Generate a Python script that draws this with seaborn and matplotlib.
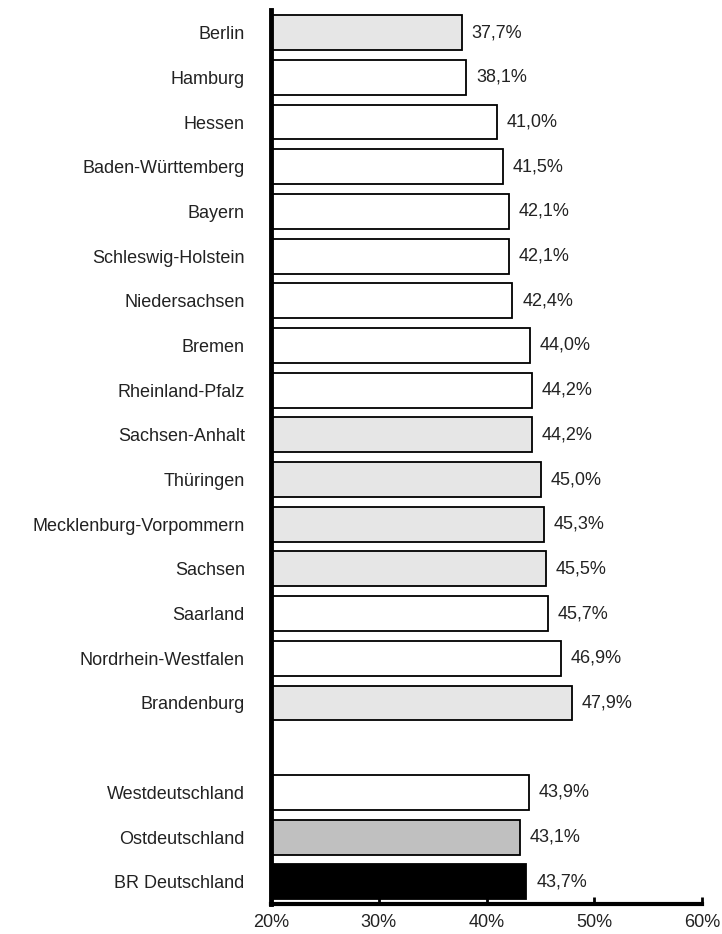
import matplotlib.pyplot as plt
import matplotlib.ticker as ticker
import pandas as pd
import seaborn as sns

# Bundesländer und Anteile (%)
laender = ['Berlin', 'Hamburg', 'Hessen', 'Baden-Württemberg', 'Bayern',
           'Schleswig-Holstein', 'Niedersachsen', 'Bremen', 'Rheinland-Pfalz',
           'Sachsen-Anhalt', 'Thüringen', 'Mecklenburg-Vorpommern', 'Sachsen',
           'Saarland', 'Nordrhein-Westfalen', 'Brandenburg',
           'Westdeutschland', 'Ostdeutschland', 'BR Deutschland']
werte = [37.7, 38.1, 41.0, 41.5, 42.1, 42.1, 42.4, 44.0, 44.2,
         44.2, 45.0, 45.3, 45.5, 45.7, 46.9, 47.9,
         43.9, 43.1, 43.7]
# Gruppen für die Füllfarbe: West, Ost, Ostdeutschland gesamt, Bund
gruppen = ['ost', 'west', 'west', 'west', 'west',
           'west', 'west', 'west', 'west',
           'ost', 'ost', 'ost', 'ost',
           'west', 'west', 'ost',
           'west', 'ost_gesamt', 'bund']
x_ticks = [20, 30, 40, 50, 60]

farben = {'west': '#ffffff', 'ost': '#e6e6e6', 'ost_gesamt': '#c0c0c0', 'bund': '#000000'}

df = pd.DataFrame({'land': laender, 'wert': werte, 'gruppe': gruppen})
# Leerzeile zwischen Ländern und Gesamtwerten
reihenfolge = laender[:16] + [' '] + laender[16:]

plt.rcParams['font.family'] = ['Liberation Sans', 'DejaVu Sans']

fig = plt.figure(figsize=(7.22, 9.34), dpi=100)
ax = fig.add_axes([0.3755, 0.032, 0.597, 0.957])

sns.barplot(data=df, y='land', x='wert', hue='gruppe', palette=farben,
            order=reihenfolge, orient='h', width=0.78, edgecolor='black',
            linewidth=1.3, legend=False, ax=ax)

# Werte rechts neben die Balken schreiben
for land, wert in zip(laender, werte):
    pos = reihenfolge.index(land)
    ax.text(wert + 0.9, pos, f'{wert:.1f}%'.replace('.', ','),
            va='center', ha='left', fontsize=13, color='#222222')

ax.set_xlim(20, 60)
ax.set_ylim(19.5, -0.5)
ax.set_xticks(x_ticks)
ax.xaxis.set_major_formatter(ticker.FuncFormatter(lambda v, p: f'{v:.0f}%'))
ax.set_xlabel('')
ax.set_ylabel('')

for side in ['top', 'right']:
    ax.spines[side].set_visible(False)
ax.spines['left'].set_linewidth(3.5)
ax.spines['bottom'].set_linewidth(3)
ax.tick_params(axis='x', direction='in', length=5, width=2, labelsize=13,
               pad=7, colors='black', labelcolor='#222222')
ax.tick_params(axis='y', length=0, labelsize=13, pad=19, labelcolor='#222222')

plt.savefig('out.png', dpi=100)
